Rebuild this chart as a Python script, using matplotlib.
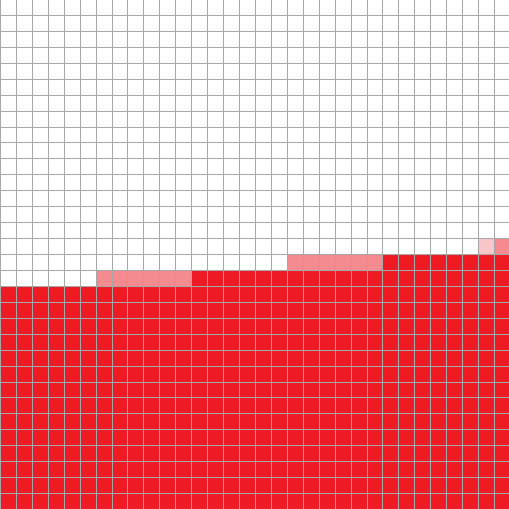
import matplotlib
matplotlib.use('Agg')
import matplotlib.pyplot as plt

# one value per column, in grid cells
columns = list(range(32))
base = [14, 14, 14, 14, 14, 14, 14, 14, 14, 14, 14, 14,
        15, 15, 15, 15, 15, 15, 15, 15, 15, 15, 15, 15,
        16, 16, 16, 16, 16, 16, 16, 16]
extra = [0, 0, 0, 0, 0, 0, 1, 1, 1, 1, 1, 1,
         0, 0, 0, 0, 0, 0, 1, 1, 1, 1, 1, 1,
         0, 0, 0, 0, 0, 0, 1, 1]
extra_colors = ['#f58a90'] * 30 + ['#f9c6ca', '#f58a90']

fig = plt.figure(figsize=(5.1, 5.1), dpi=100)
ax = fig.add_axes([0, 0, 1, 1])

ax.bar(columns, base, width=1.0, align='edge', color='#ee1b24', linewidth=0)
ax.bar(columns, extra, bottom=base, width=1.0, align='edge',
       color=extra_colors, linewidth=0)

ax.set_xlim(0.09375, 31.96875)
ax.set_ylim(0.03125, 31.90625)
ax.set_xticks(range(33))
ax.set_yticks(range(33))
ax.grid(True, color='#a8a8a8', linewidth=0.75)
ax.set_axisbelow(False)
ax.tick_params(length=0, labelbottom=False, labelleft=False)
for s in ax.spines.values():
    s.set_visible(False)

fig.savefig('out.png', dpi=100)
